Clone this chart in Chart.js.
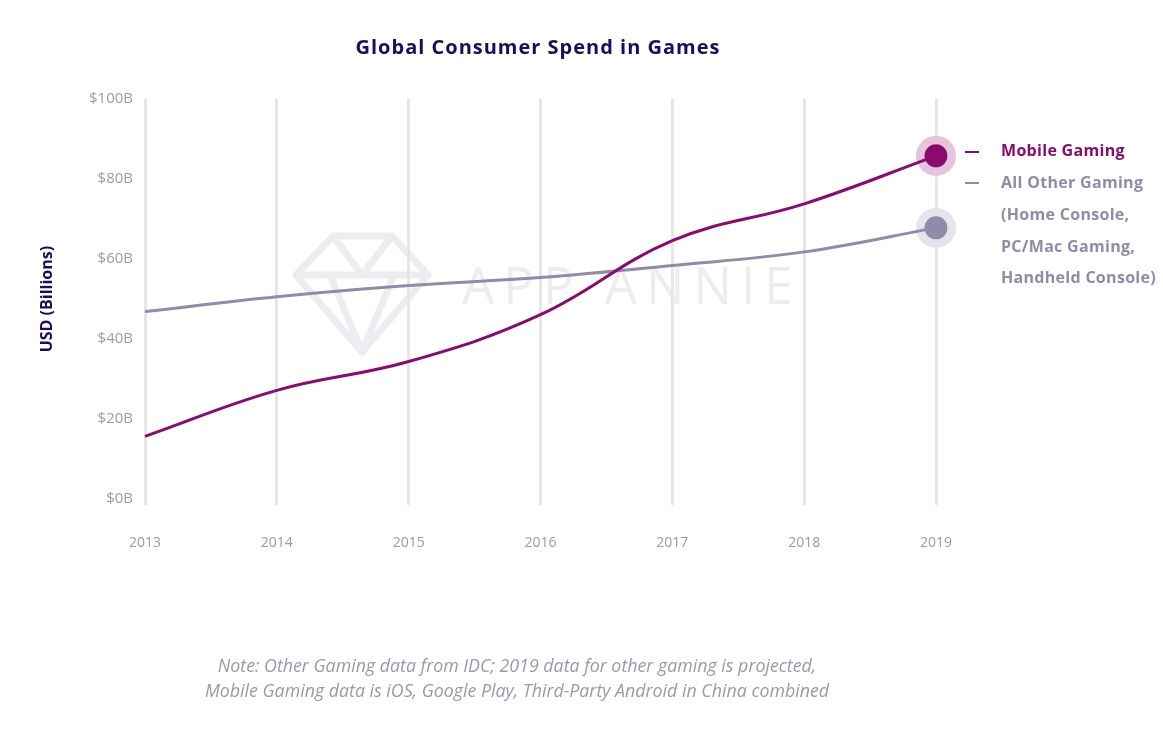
<!DOCTYPE html>
<html><head><meta charset="utf-8">
<script src="https://cdn.jsdelivr.net/npm/chart.js@4.4.0/dist/chart.umd.min.js"></script>
<style>
html,body{margin:0;padding:0;background:#fff;}
#wrap{position:relative;width:1163px;height:736px;overflow:hidden;font-family:"Open Sans",Lato,sans-serif;}
#c{position:absolute;left:0;top:0;}
#title{position:absolute;left:0;width:1076px;top:33px;text-align:center;font-weight:700;font-size:20px;letter-spacing:1px;color:#1d0b5f;}
#wm{position:absolute;left:462px;top:249px;font-family:"Open Sans",sans-serif;font-size:51px;letter-spacing:9px;color:#ededf1;white-space:nowrap;}
#dia{position:absolute;left:0;top:0;}
.lg{position:absolute;left:1001px;font-weight:700;font-size:16px;letter-spacing:0.3px;white-space:nowrap;}
.dash{position:absolute;left:965px;width:14px;height:2px;}
#note{position:absolute;left:0;width:1034px;top:653px;text-align:center;font-style:italic;font-size:17.8px;line-height:25px;color:#9a98b0;}
</style></head>
<body><div id="wrap">
<svg id="dia" width="1163" height="736"><g fill="none" stroke="#ededf1" stroke-width="7" stroke-linejoin="round">
<polygon points="296,275 333,236 392,236 428,275 362,352"/>
<polyline points="296,275 428,275"/>
<polyline points="333,236 362,275 392,236"/>
<polyline points="330,275 362,352 394,275"/>
</g></svg>
<div id="wm">APP ANNIE</div>
<canvas id="c" width="1163" height="736"></canvas>
<div id="title">Global Consumer Spend in Games</div>
<div class="dash" style="top:151px;background:#8a0a6e"></div>
<div class="lg" style="top:139px;color:#8a0a6e">Mobile Gaming</div>
<div class="dash" style="top:182px;background:#8e8ca8"></div>
<div class="lg" style="top:171px;color:#8e8ca8">All Other Gaming</div>
<div class="lg" style="top:203px;color:#8e8ca8">(Home Console,</div>
<div class="lg" style="top:235px;color:#8e8ca8">PC/Mac Gaming,</div>
<div class="lg" style="top:266px;color:#8e8ca8">Handheld Console)</div>
<div id="note">Note: Other Gaming data from IDC; 2019 data for other gaming is projected,<br>Mobile Gaming data is iOS, Google Play, Third-Party Android in China combined</div>
</div>
<script>
const years = ['2013','2014','2015','2016','2017','2018','2019'];
const mobileGaming = [15.7, 27.2, 34.4, 46.1, 64.6, 73.8, 85.8];
const otherGaming = [46.9, 50.6, 53.4, 55.4, 58.4, 61.8, 67.8];
const yTicks = [0, 20, 40, 60, 80, 100];

const MOBILE = '#8a0a6e', OTHER = '#8e8ca8';
const lastOnly = (r, n) => years.map((_, i) => i === n - 1 ? r : 0);

const haloPlugin = {
  id: 'halo',
  beforeDatasetsDraw(chart) {
    const ctx = chart.ctx;
    chart.data.datasets.forEach((ds, i) => {
      const meta = chart.getDatasetMeta(i);
      const pt = meta.data[meta.data.length - 1];
      ctx.save();
      ctx.beginPath();
      ctx.arc(pt.x, pt.y, 20, 0, Math.PI * 2);
      ctx.fillStyle = ds.haloColor;
      ctx.fill();
      ctx.restore();
    });
  }
};

new Chart(document.getElementById('c'), {
  type: 'line',
  data: {
    labels: years,
    datasets: [
      { label: 'Mobile Gaming', data: mobileGaming, borderColor: MOBILE, backgroundColor: MOBILE,
        borderWidth: 3, tension: 0.4, pointRadius: lastOnly(11.5, years.length), pointBorderWidth: 0,
        pointBackgroundColor: MOBILE, haloColor: '#e5c4de' },
      { label: 'All Other Gaming', data: otherGaming, borderColor: OTHER, backgroundColor: OTHER,
        borderWidth: 3, tension: 0.4, pointRadius: lastOnly(11.5, years.length), pointBorderWidth: 0,
        pointBackgroundColor: OTHER, haloColor: '#e4e4ea' }
    ]
  },
  options: {
    responsive: false,
    animation: false,
    events: [],
    layout: { padding: { left: 38, right: 227, top: 99, bottom: 156 } },
    plugins: { legend: { display: false }, tooltip: { enabled: false }, title: { display: false } },
    scales: {
      x: {
        offset: false,
        border: { display: false },
        grid: { color: '#e6e6e9', lineWidth: 3, drawTicks: true, tickLength: 6, tickColor: '#e6e6e9' },
        ticks: { color: '#9c9aa8', font: { family: 'Open Sans', size: 14 }, padding: 29 }
      },
      y: {
        min: 0, max: 100,
        afterBuildTicks: s => { s.ticks = yTicks.map(v => ({ value: v })); },
        afterFit: s => { s.width = 107; },
        border: { display: false },
        grid: { display: false },
        title: { display: true, text: 'USD (Billions)', color: '#1d0b5f',
                 font: { family: 'Open Sans', size: 16, weight: 'bold' }, padding: 0 },
        ticks: { color: '#9c9aa8', font: { family: 'Open Sans', size: 15 }, padding: 4,
                 callback: v => '$' + v + 'B' }
      }
    }
  },
  plugins: [haloPlugin]
});
</script>
</body></html>
